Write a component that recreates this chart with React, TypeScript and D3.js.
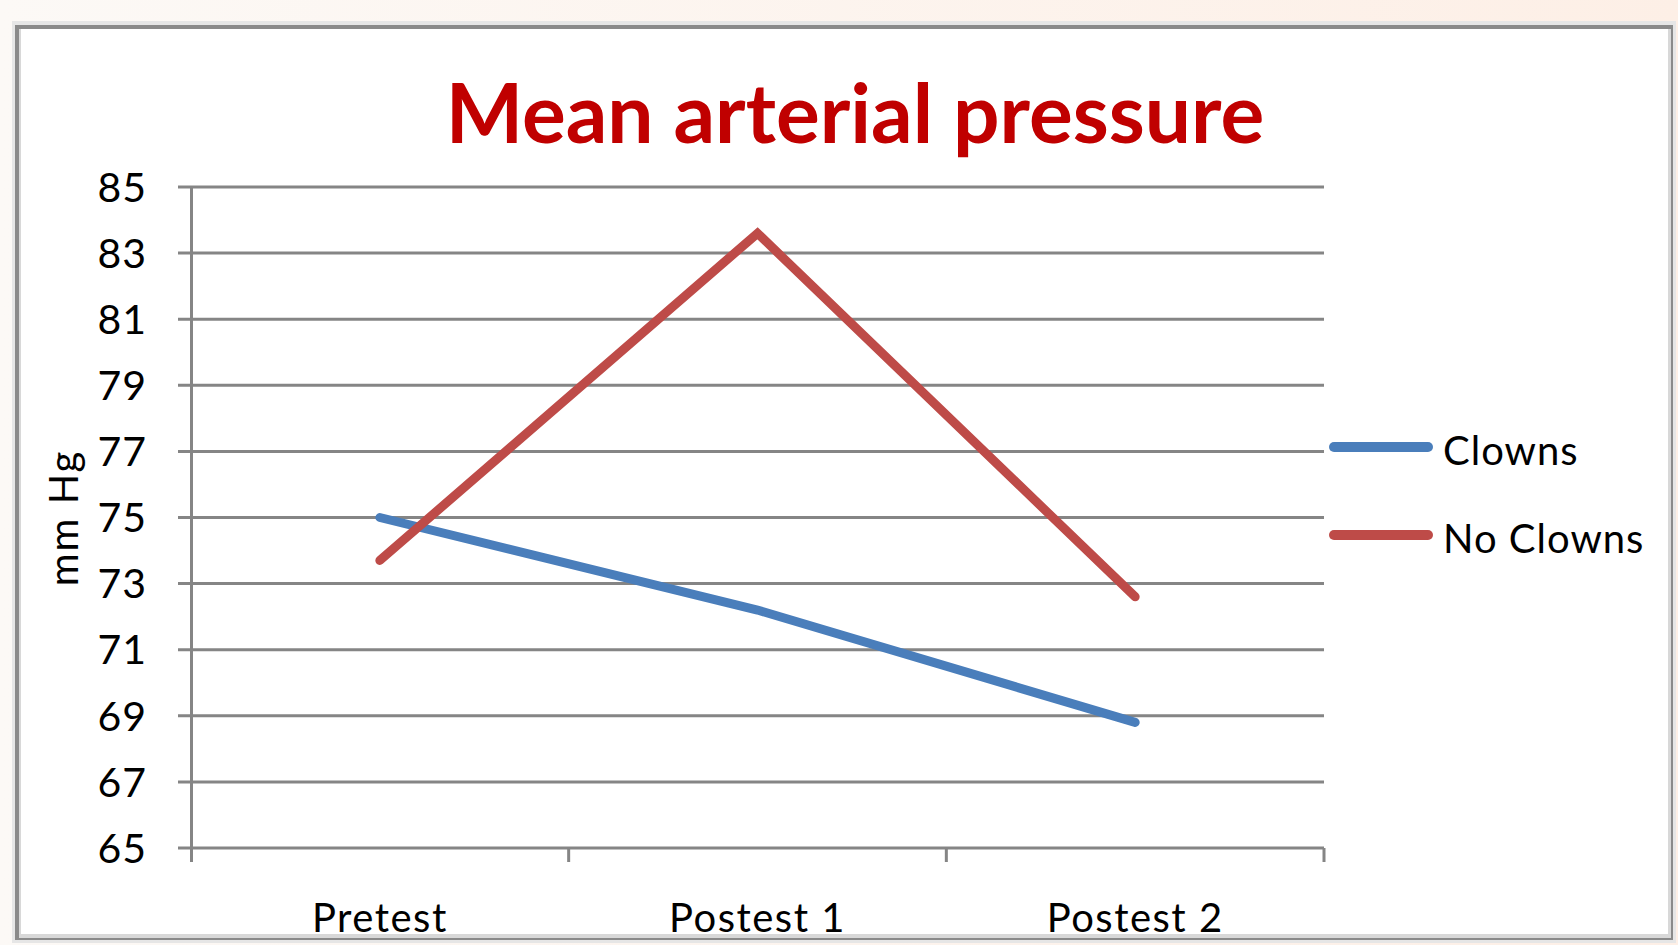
import React, { useEffect, useRef } from 'react';
import * as d3 from 'd3';

const categories = ['Pretest', 'Postest 1', 'Postest 2'];
const seriesNames = ['Clowns', 'No Clowns'];
const clowns = [75.0, 72.2, 68.8];
const noClowns = [73.7, 83.6, 72.6];
const yTicks = [65, 67, 69, 71, 73, 75, 77, 79, 81, 83, 85];
const seriesColors = ['#4a7ebb', '#be4b48'];

const FONT = 'Lato, "Open Sans", sans-serif';

const App: React.FC = () => {
  const ref = useRef<SVGSVGElement>(null);

  useEffect(() => {
    const width = 1678, height = 945;
    const svg = d3.select(ref.current)
      .attr('width', width)
      .attr('height', height);
    svg.selectAll('*').remove();

    // page background + slide frame
    const defs = svg.append('defs');
    const grad = defs.append('linearGradient').attr('id', 'bg').attr('x1', 0).attr('x2', 1).attr('y1', 0).attr('y2', 0);
    grad.append('stop').attr('offset', '0%').attr('stop-color', '#fcf9f6');
    grad.append('stop').attr('offset', '100%').attr('stop-color', '#fdefe6');
    svg.append('rect').attr('width', width).attr('height', height).attr('fill', 'url(#bg)');

    svg.append('rect').attr('x', 12).attr('y', 21).attr('width', 1664).attr('height', 922).attr('fill', '#e6e6e6');
    svg.append('rect').attr('x', 15).attr('y', 25).attr('width', 1658).attr('height', 915).attr('fill', '#8a8a8a');
    svg.append('rect').attr('x', 19).attr('y', 29).attr('width', 1652).attr('height', 909).attr('fill', '#d8d8d8');
    svg.append('rect').attr('x', 21).attr('y', 29).attr('width', 1647).attr('height', 905).attr('fill', '#ffffff');

    const x = d3.scaleBand<string>().domain(categories).range([191, 1324]);
    const y = d3.scaleLinear().domain([65, 85]).range([848, 187]);

    const g = svg.append('g');

    // gridlines
    g.selectAll('line.grid')
      .data(yTicks)
      .enter()
      .append('line')
      .attr('x1', 178)
      .attr('x2', 1324)
      .attr('y1', (d) => y(d))
      .attr('y2', (d) => y(d))
      .attr('stroke', '#858585')
      .attr('stroke-width', 3);

    // y axis
    g.append('line')
      .attr('x1', 191.5).attr('x2', 191.5)
      .attr('y1', y(85)).attr('y2', y(65) + 14)
      .attr('stroke', '#858585').attr('stroke-width', 3);

    // x ticks at band boundaries
    const bounds = categories.map((c) => x(c) as number).concat([x.range()[1]]);
    g.selectAll('line.xtick')
      .data(bounds.slice(1))
      .enter()
      .append('line')
      .attr('x1', (d) => d).attr('x2', (d) => d)
      .attr('y1', y(65)).attr('y2', y(65) + 14)
      .attr('stroke', '#858585').attr('stroke-width', 3);

    // y tick labels
    g.selectAll('text.ytick')
      .data(yTicks)
      .enter()
      .append('text')
      .attr('x', 147)
      .attr('y', (d) => y(d))
      .attr('dy', '0.36em')
      .attr('text-anchor', 'end')
      .style('font-family', FONT)
      .style('font-size', '41px')
      .style('letter-spacing', '1px')
      .attr('fill', '#000')
      .text((d) => d);

    // category labels
    g.selectAll('text.xlab')
      .data(categories)
      .enter()
      .append('text')
      .attr('x', (d) => (x(d) as number) + x.bandwidth() / 2)
      .attr('y', 932)
      .attr('text-anchor', 'middle')
      .style('font-family', FONT)
      .style('font-size', '40px')
      .style('letter-spacing', '1.5px')
      .attr('fill', '#000')
      .text((d) => d);

    // y axis title
    g.append('text')
      .attr('transform', 'translate(78, 518) rotate(-90)')
      .attr('text-anchor', 'middle')
      .style('font-family', FONT)
      .style('font-size', '40px')
      .style('letter-spacing', '2px')
      .attr('fill', '#000')
      .text('mm Hg');

    // title
    svg.append('text')
      .attr('x', 855)
      .attr('y', 143)
      .attr('text-anchor', 'middle')
      .style('font-family', FONT)
      .style('font-size', '82px')
      .style('font-weight', 'bold')
      .attr('fill', '#c00000')
      .text('Mean arterial pressure');

    // series lines
    const line = d3.line<number>()
      .x((_, i) => (x(categories[i]) as number) + x.bandwidth() / 2)
      .y((d) => y(d));

    [clowns, noClowns].forEach((vals, i) => {
      g.append('path')
        .attr('d', line(vals) as string)
        .attr('fill', 'none')
        .attr('stroke', seriesColors[i])
        .attr('stroke-width', 9)
        .attr('stroke-linecap', 'round')
        .attr('stroke-linejoin', 'miter');
    });

    // legend
    const legendY = [447, 535];
    seriesNames.forEach((name, i) => {
      svg.append('line')
        .attr('x1', 1334).attr('x2', 1428)
        .attr('y1', legendY[i]).attr('y2', legendY[i])
        .attr('stroke', seriesColors[i])
        .attr('stroke-width', 10)
        .attr('stroke-linecap', 'round');
      svg.append('text')
        .attr('x', 1443)
        .attr('y', legendY[i] + 18)
        .style('font-family', FONT)
        .style('font-size', '40px')
        .style('letter-spacing', '1px')
        .attr('fill', '#000')
        .text(name);
    });
  }, []);

  return (
    <svg ref={ref} style={{ position: 'absolute', left: 0, top: 0, display: 'block' }}></svg>
  );
};

export default App;
